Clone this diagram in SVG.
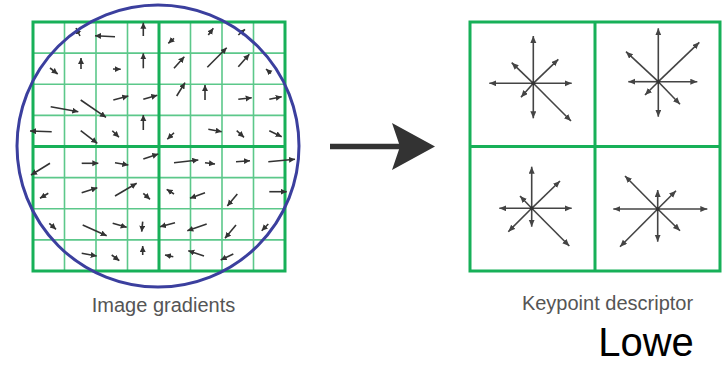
<svg xmlns="http://www.w3.org/2000/svg" width="725" height="365" viewBox="0 0 725 365">
<style>
.thin{stroke:#5cc88a;stroke-width:1.6;fill:none}
.thick{stroke:#17b058;stroke-width:3;fill:none}
.g{stroke:#333;stroke-width:1.6;fill:none;marker-end:url(#ah)}
.s{stroke:#444;stroke-width:1.6;fill:none;marker-end:url(#sh)}
.lbl{font-family:"Liberation Sans",Arial,sans-serif;font-size:20px;fill:#555}
</style>
<defs>
<marker id="ah" markerUnits="userSpaceOnUse" markerWidth="8" markerHeight="8" refX="6" refY="3" orient="auto"><path d="M0,0 L6,3 L0,6 Z" fill="#333"/></marker>
<marker id="sh" markerUnits="userSpaceOnUse" markerWidth="9" markerHeight="8" refX="7" refY="3" orient="auto"><path d="M0,0 L7,3 L0,6 Z" fill="#444"/></marker>
</defs>
<g id="gradient-grid">
<path class="thin" d="M64.5,22V271M96,22V271M127.5,22V271M190.5,22V271M222,22V271M253.5,22V271M33,53.1H285M33,84.25H285M33,115.4H285M33,177.6H285M33,208.75H285M33,239.9H285"/>
<path class="thick" d="M33,22H285V271H33ZM159,22V271M33,146.5H285"/>
</g>
<g id="gradients">
<line class="g" x1="80" y1="36" x2="76" y2="28"/>
<line class="g" x1="115" y1="36.7" x2="95" y2="35.7"/>
<line class="g" x1="143.3" y1="36" x2="143.3" y2="22.7"/>
<line class="g" x1="50" y1="68" x2="57.7" y2="74"/>
<line class="g" x1="81" y1="69" x2="81" y2="58"/>
<line class="g" x1="113" y1="69" x2="120.7" y2="69.3"/>
<line class="g" x1="143.3" y1="68.3" x2="143.3" y2="53.3"/>
<line class="g" x1="50.7" y1="106.7" x2="78.3" y2="111.7"/>
<line class="g" x1="80.7" y1="100" x2="106" y2="117.3"/>
<line class="g" x1="113.3" y1="100" x2="128.3" y2="96"/>
<line class="g" x1="143.3" y1="99.3" x2="157.3" y2="95.3"/>
<line class="g" x1="51.7" y1="131.7" x2="30" y2="131"/>
<line class="g" x1="80.7" y1="130.7" x2="97.3" y2="143.3"/>
<line class="g" x1="112.3" y1="130.7" x2="119" y2="137.3"/>
<line class="g" x1="143.3" y1="130" x2="143.3" y2="115"/>
<line class="g" x1="174" y1="38.3" x2="168.3" y2="43.3"/>
<line class="g" x1="208.3" y1="35" x2="213.3" y2="28.3"/>
<line class="g" x1="238.3" y1="35" x2="245" y2="29.3"/>
<line class="g" x1="174" y1="68.3" x2="184.3" y2="56.7"/>
<line class="g" x1="207.3" y1="67.3" x2="226.7" y2="47.7"/>
<line class="g" x1="238.3" y1="66.7" x2="249.3" y2="54.3"/>
<line class="g" x1="271" y1="73.3" x2="266" y2="69"/>
<line class="g" x1="176.7" y1="96" x2="185" y2="82.7"/>
<line class="g" x1="205" y1="100" x2="205" y2="85"/>
<line class="g" x1="238.3" y1="99.3" x2="251.7" y2="97.7"/>
<line class="g" x1="269.3" y1="99.3" x2="281.7" y2="96.7"/>
<line class="g" x1="174" y1="132.7" x2="167.3" y2="139.3"/>
<line class="g" x1="208.3" y1="129.3" x2="221.7" y2="131.7"/>
<line class="g" x1="236.7" y1="130.7" x2="244" y2="137.3"/>
<line class="g" x1="269.3" y1="130.7" x2="281.7" y2="136.7"/>
<line class="g" x1="50" y1="163.3" x2="31" y2="175"/>
<line class="g" x1="81.7" y1="163.3" x2="98.3" y2="163.3"/>
<line class="g" x1="115" y1="162.7" x2="128.3" y2="165"/>
<line class="g" x1="143.3" y1="159" x2="158.3" y2="154"/>
<line class="g" x1="48.3" y1="193.3" x2="40" y2="198.3"/>
<line class="g" x1="81.7" y1="192.7" x2="97.3" y2="187.7"/>
<line class="g" x1="115" y1="196" x2="136.7" y2="183.3"/>
<line class="g" x1="143.3" y1="193.3" x2="150" y2="199.3"/>
<line class="g" x1="49.3" y1="223.3" x2="56" y2="229.3"/>
<line class="g" x1="82.7" y1="225" x2="106.7" y2="235.7"/>
<line class="g" x1="112.7" y1="223.3" x2="126.7" y2="227.3"/>
<line class="g" x1="142.7" y1="221.7" x2="141.7" y2="231.7"/>
<line class="g" x1="81.7" y1="253.3" x2="96.7" y2="256"/>
<line class="g" x1="111.7" y1="255" x2="119.3" y2="260.7"/>
<line class="g" x1="142.7" y1="255" x2="142.7" y2="246"/>
<line class="g" x1="174" y1="162.7" x2="198.3" y2="160"/>
<line class="g" x1="205" y1="162.7" x2="215" y2="164"/>
<line class="g" x1="236" y1="161.7" x2="250" y2="160.7"/>
<line class="g" x1="268.3" y1="161.7" x2="295" y2="159.3"/>
<line class="g" x1="174" y1="194" x2="166.7" y2="189.3"/>
<line class="g" x1="205" y1="192.7" x2="190" y2="198.3"/>
<line class="g" x1="237.3" y1="194" x2="227.3" y2="206"/>
<line class="g" x1="269.3" y1="191.7" x2="286.7" y2="191.7"/>
<line class="g" x1="175" y1="222.7" x2="160" y2="226.7"/>
<line class="g" x1="206.7" y1="224" x2="187.3" y2="230.7"/>
<line class="g" x1="236" y1="225" x2="225" y2="238.3"/>
<line class="g" x1="268.3" y1="224" x2="261.7" y2="230.7"/>
<line class="g" x1="173.3" y1="256.7" x2="165" y2="255"/>
<line class="g" x1="204" y1="256" x2="188.3" y2="250.7"/>
<line class="g" x1="233.3" y1="254" x2="220.7" y2="260"/>
</g>
<g id="window-circle">
<circle cx="158" cy="146" r="141" fill="none" stroke="#3b3f9e" stroke-width="3"/>
</g>
<g id="connectors">
<line x1="330" y1="146.5" x2="401" y2="146.5" stroke="#333" stroke-width="5.5"/>
<polygon points="392,123 435,146.5 392,170 400,146.5" fill="#333"/>
</g>
<g id="descriptor-grid">
<path class="thick" d="M470,22H720V271H470ZM595,22V271M470,146.5H720"/>
</g>
<g id="descriptor-tl">
<line class="s" x1="533.3" y1="83.3" x2="533.3" y2="36"/>
<line class="s" x1="533.3" y1="83.3" x2="533.3" y2="118.3"/>
<line class="s" x1="533.3" y1="83.3" x2="489.3" y2="83.3"/>
<line class="s" x1="533.3" y1="83.3" x2="571.7" y2="83.3"/>
<line class="s" x1="533.3" y1="83.3" x2="511.7" y2="62.7"/>
<line class="s" x1="533.3" y1="83.3" x2="558.3" y2="59.3"/>
<line class="s" x1="533.3" y1="83.3" x2="521" y2="97.3"/>
<line class="s" x1="533.3" y1="83.3" x2="571" y2="121"/>
<circle cx="533.3" cy="83.3" r="2" fill="#333"/>
</g>
<g id="descriptor-tr">
<line class="s" x1="658.3" y1="81.7" x2="658.3" y2="28.3"/>
<line class="s" x1="658.3" y1="81.7" x2="658.3" y2="116.7"/>
<line class="s" x1="658.3" y1="81.7" x2="628.3" y2="81.7"/>
<line class="s" x1="658.3" y1="81.7" x2="697.3" y2="81.7"/>
<line class="s" x1="658.3" y1="81.7" x2="626" y2="51.7"/>
<line class="s" x1="658.3" y1="81.7" x2="699.3" y2="42.3"/>
<line class="s" x1="658.3" y1="81.7" x2="645" y2="95"/>
<line class="s" x1="658.3" y1="81.7" x2="680" y2="104.3"/>
<circle cx="658.3" cy="81.7" r="2" fill="#333"/>
</g>
<g id="descriptor-bl">
<line class="s" x1="531.7" y1="208.3" x2="531.7" y2="166.7"/>
<line class="s" x1="531.7" y1="208.3" x2="531.7" y2="226.7"/>
<line class="s" x1="531.7" y1="208.3" x2="499.3" y2="208.3"/>
<line class="s" x1="531.7" y1="208.3" x2="571.7" y2="208.3"/>
<line class="s" x1="531.7" y1="208.3" x2="520" y2="196"/>
<line class="s" x1="531.7" y1="208.3" x2="560" y2="181"/>
<line class="s" x1="531.7" y1="208.3" x2="508.3" y2="231.7"/>
<line class="s" x1="531.7" y1="208.3" x2="569.3" y2="246"/>
<circle cx="531.7" cy="208.3" r="2" fill="#333"/>
</g>
<g id="descriptor-br">
<line class="s" x1="657.7" y1="209" x2="657.7" y2="190"/>
<line class="s" x1="657.7" y1="209" x2="657.7" y2="241.7"/>
<line class="s" x1="657.7" y1="209" x2="613.3" y2="209"/>
<line class="s" x1="657.7" y1="209" x2="707.3" y2="209"/>
<line class="s" x1="657.7" y1="209" x2="625" y2="176"/>
<line class="s" x1="657.7" y1="209" x2="676" y2="190.7"/>
<line class="s" x1="657.7" y1="209" x2="620" y2="246.7"/>
<line class="s" x1="657.7" y1="209" x2="680" y2="230.7"/>
<circle cx="657.7" cy="209" r="2" fill="#333"/>
</g>
<g id="labels">
<text class="lbl" x="163.5" y="311.5" text-anchor="middle">Image gradients</text>
<text class="lbl" x="607.5" y="310" text-anchor="middle">Keypoint descriptor</text>
<text x="646" y="356" text-anchor="middle" font-family="'Liberation Sans',Arial,sans-serif" font-size="40" fill="#000">Lowe</text>
</g>
</svg>
